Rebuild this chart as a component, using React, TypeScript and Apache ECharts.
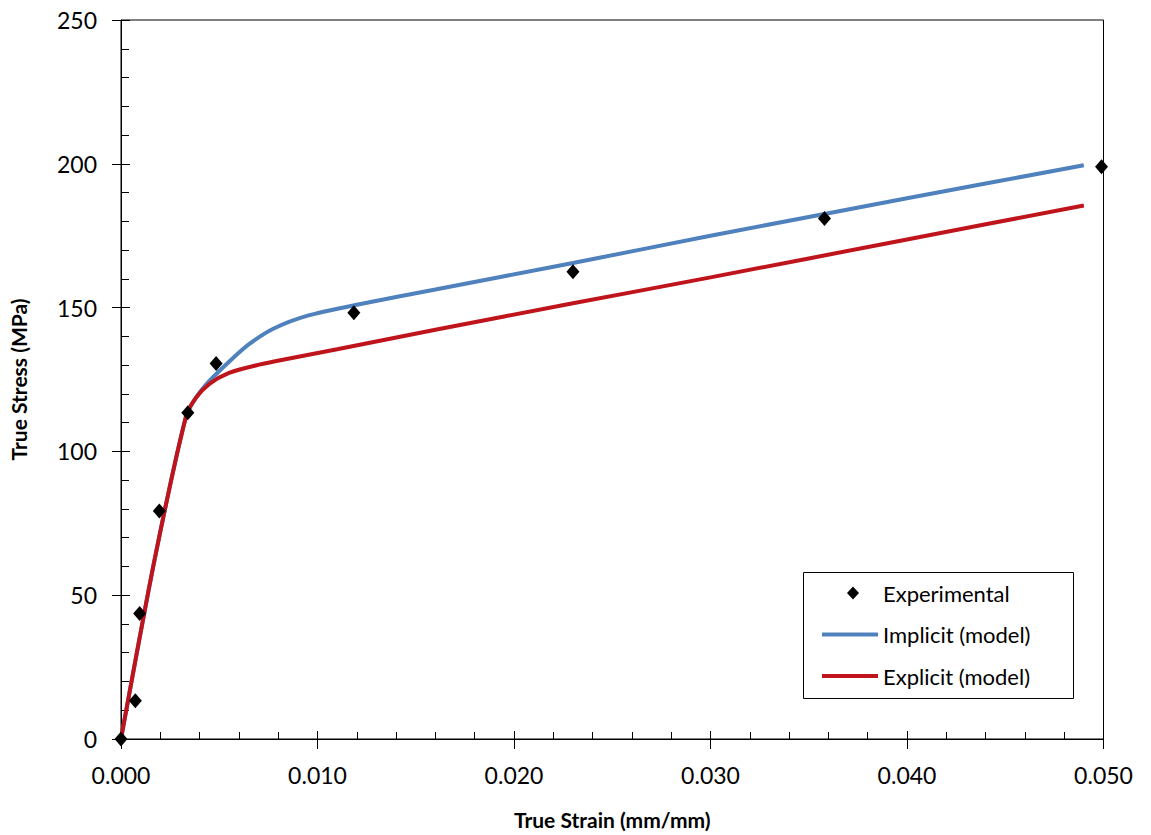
import React, { useEffect, useRef } from "react";
import * as echarts from "echarts";

const experimental: [number, number][] = [
  [0.0, 0.0],
  [0.00073, 13.3],
  [0.00095, 43.6],
  [0.00195, 79.3],
  [0.0034, 113.4],
  [0.00484, 130.6],
  [0.01185, 148.2],
  [0.023, 162.5],
  [0.0358, 181.0],
  [0.0499, 199.0],
];

const implicitModel: [number, number][] = [
  [0.0, 0.0],
  [0.0017, 62],
  [0.0033, 112],
  [0.0038, 118.5],
  [0.0045, 124.5],
  [0.0055, 131.2],
  [0.0065, 137.2],
  [0.0078, 142.8],
  [0.0095, 147.2],
  [0.012, 151],
  [0.016, 156.3],
  [0.023, 165.5],
  [0.03, 175],
  [0.04, 188],
  [0.049, 199.5],
];

const explicitModel: [number, number][] = [
  [0.0, 0.0],
  [0.0017, 62],
  [0.0033, 112],
  [0.0038, 118.5],
  [0.0045, 123.5],
  [0.0055, 127.3],
  [0.0068, 129.8],
  [0.0085, 132.2],
  [0.011, 135.5],
  [0.016, 142.3],
  [0.023, 151.5],
  [0.03, 160.5],
  [0.04, 173.7],
  [0.049, 185.5],
];

const xTitle = "True Strain (mm/mm)";
const yTitle = "True Stress (MPa)";
const seriesNames = ["Experimental", "Implicit (model)", "Explicit (model)"];

const FONT = "Lato";
const BLUE = "#4F81BD";
const RED = "#C0141C";

const diamondIcon =
  "path://M0 0 L0.01 0 L0 0.01 Z M56 14 L55.99 14 L56 13.99 Z M31 0.5 L37 7 L31 13.5 L25 7 Z";
const lineIcon =
  "path://M0 0 L0.01 0 L0 0.01 Z M56 14 L55.99 14 L56 13.99 Z M0 5 L56 5 L56 9 L0 9 Z";

export default function App() {
  const ref = useRef<HTMLDivElement>(null);
  useEffect(() => {
    if (!ref.current) return;
    const chart = echarts.init(ref.current, undefined, { renderer: "svg" });
    const common = {
      type: "value",
      min: 0,
    };
    chart.setOption({
      animation: false,
      backgroundColor: "#ffffff",
      grid: {
        left: 118.5,
        right: 47.5,
        top: 20,
        bottom: 93,
        show: true,
        borderColor: "#000",
        borderWidth: 1,
        backgroundColor: "transparent",
      },
      graphic: [
        {
          type: "rect",
          z: 4.5,
          shape: { x: 803.5, y: 572.5, width: 270, height: 126 },
          style: { fill: "#fff", stroke: "#000", lineWidth: 1 },
        },
      ],
      legend: {
        orient: "vertical",
        left: 803,
        top: 572,
        z: 5,
        padding: [8, 10, 9, 19],
        itemWidth: 56,
        itemHeight: 14,
        itemGap: 15.5,
        textStyle: { fontFamily: FONT, fontSize: 22, color: "#000", lineHeight: 26 },
        data: [
          { name: seriesNames[0], icon: diamondIcon, itemStyle: { color: "#000" } },
          { name: seriesNames[1], icon: lineIcon, itemStyle: { color: BLUE } },
          { name: seriesNames[2], icon: lineIcon, itemStyle: { color: RED } },
        ],
      },
      xAxis: [
        {
          ...common,
          max: 0.05,
          interval: 0.01,
          position: "bottom",
          name: xTitle,
          nameLocation: "middle",
          nameGap: 70,
          nameTextStyle: { fontFamily: FONT, fontSize: 21, fontWeight: "bold", color: "#000" },
          axisLine: { lineStyle: { color: "#000", width: 1 } },
          axisTick: { show: true, inside: false, length: 10, lineStyle: { color: "#000" } },
          minorTick: { show: false },
          axisLabel: {
            fontFamily: FONT,
            fontSize: 23,
            color: "#000",
            margin: 24,
            formatter: (v: number) => v.toFixed(3),
          },
          splitLine: { show: false },
        },
        {
          ...common,
          max: 0.05,
          interval: 0.01,
          position: "bottom",
          axisLine: { show: false },
          axisTick: { show: true, inside: true, length: 8, lineStyle: { color: "#000" } },
          minorTick: { show: true, splitNumber: 5, length: 7, lineStyle: { color: "#000" } },
          axisLabel: { show: false },
          splitLine: { show: false },
        },
      ],
      yAxis: [
        {
          ...common,
          max: 250,
          interval: 50,
          position: "left",
          name: yTitle,
          nameLocation: "middle",
          nameGap: 92,
          nameTextStyle: { fontFamily: FONT, fontSize: 21, fontWeight: "bold", color: "#000" },
          axisLine: { show: true, lineStyle: { color: "#000", width: 1 } },
          axisTick: { show: true, inside: false, length: 9, lineStyle: { color: "#000" } },
          minorTick: { show: false },
          axisLabel: { fontFamily: FONT, fontSize: 23, color: "#000", margin: 24 },
          splitLine: { show: false },
        },
        {
          ...common,
          max: 250,
          interval: 50,
          position: "left",
          axisLine: { show: false },
          axisTick: { show: true, inside: true, length: 9, lineStyle: { color: "#000" } },
          minorTick: { show: true, splitNumber: 5, length: 8, lineStyle: { color: "#000" } },
          axisLabel: { show: false },
          splitLine: { show: false },
        },
      ],
      series: [
        {
          name: seriesNames[1],
          type: "line",
          data: implicitModel,
          showSymbol: false,
          symbol: "none",
          smooth: 0.25,
          color: BLUE,
          lineStyle: { color: BLUE, width: 4 },
          z: 2,
        },
        {
          name: seriesNames[2],
          type: "line",
          data: explicitModel,
          showSymbol: false,
          symbol: "none",
          smooth: 0.25,
          color: RED,
          lineStyle: { color: RED, width: 4 },
          z: 3,
        },
        {
          name: seriesNames[0],
          type: "scatter",
          data: experimental,
          symbol: "diamond",
          symbolSize: [13, 15],
          itemStyle: { color: "#000", opacity: 1 },
          z: 4,
        },
      ],
    });
    return () => chart.dispose();
  }, []);
  return (
    <div
      ref={ref}
      style={{ position: "fixed", left: 0, top: 0, width: 1151, height: 835, background: "#fff" }}
    />
  );
}
